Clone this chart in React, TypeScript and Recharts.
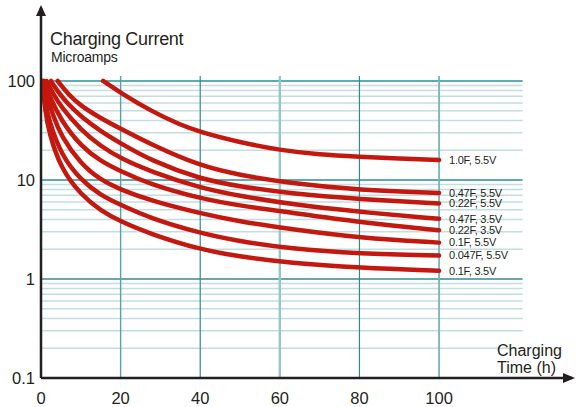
import { LineChart, Line, XAxis, YAxis, ReferenceLine, ReferenceDot } from 'recharts'

// [hours, microamps]
const cap10F55 = [[15.6, 100], [20, 76], [27.5, 50], [35, 36], [40, 30.5], [50, 24], [60, 20], [70, 18], [80, 17.2], [90, 16.5], [100, 15.9]]
const cap047F55 = [[4.2, 100], [7, 72], [10, 56], [15, 42], [20, 33], [27.5, 23], [40, 13.8], [50, 11.2], [62.5, 9.3], [80, 7.9], [100, 7.4]]
const cap022F55 = [[2.5, 100], [4, 80], [7, 57], [10, 44], [15, 31], [20, 23.5], [27.5, 15.8], [40, 10.2], [50, 8.6], [62.5, 7.3], [80, 6.4], [100, 5.8]]
const cap047F35 = [[1.4, 100], [3, 75], [5, 55], [10, 32], [15, 22], [20, 16.5], [27.5, 12.2], [40, 8.3], [50, 6.9], [62.5, 5.7], [80, 4.75], [100, 4.05]]
const cap022F35 = [[0.8, 100], [2, 72], [5, 40], [10, 22], [15, 15.5], [20, 12.3], [27.5, 9], [40, 6.5], [50, 5.5], [62.5, 4.7], [80, 3.75], [100, 3.1]]
const cap01F55 = [[0.6, 100], [1.5, 70], [3, 45], [5, 28], [10, 14.5], [15, 10], [20, 8], [27.5, 6.2], [40, 4.6], [50, 3.8], [62.5, 3.2], [80, 2.6], [100, 2.33]]
const cap0047F55 = [[0.4, 100], [1, 62], [2, 40], [5, 18], [10, 10], [15, 7], [20, 5.6], [27.5, 4.1], [40, 2.9], [50, 2.4], [62.5, 2.02], [80, 1.8], [100, 1.73]]
const cap01F35 = [[0.3, 100], [1, 52], [2, 30], [5, 13], [10, 7.1], [15, 4.9], [20, 3.8], [27.5, 2.85], [40, 1.98], [50, 1.68], [62.5, 1.45], [80, 1.3], [100, 1.21]]

const SERIES: [string, number[][]][] = [
  ['1.0F, 5.5V', cap10F55],
  ['0.47F, 5.5V', cap047F55],
  ['0.22F, 5.5V', cap022F55],
  ['0.47F, 3.5V', cap047F35],
  ['0.22F, 3.5V', cap022F35],
  ['0.1F, 5.5V', cap01F55],
  ['0.047F, 5.5V', cap0047F55],
  ['0.1F, 3.5V', cap01F35],
]

const X_TICKS = [0, 20, 40, 60, 80, 100]
const Y_TICKS = [0.1, 1, 10, 100]
const MINOR_Y = [0.2, 0.3, 0.4, 0.5, 0.6, 0.7, 0.8, 0.9, 2, 3, 4, 5, 6, 7, 8, 9, 20, 30, 40, 50, 60, 70, 80, 90]
const GRID_X_END = 121
const GRID_Y_TOP = 112
const X_MAX = 133.4
const Y_MAX = 546

const FONT = '"Liberation Sans", Arial, Helvetica, sans-serif'
const RED = '#c4170d'
const INK = '#231f20'

const VLINE_STYLE: Record<number, [string, number]> = {
  20: ['#4ea5ae', 1.4],
  40: ['#2d8a95', 1.2],
  60: ['#94c6cc', 2.4],
  80: ['#2d8a95', 1.2],
  100: ['#74b5bd', 1.8],
}

function endLabel(name: string, count: number) {
  return (p: any) => {
    if (p.index !== count - 1) return <g />
    return (
      <text x={p.x + 10} y={p.y} dy="0.35em" fontSize={11} letterSpacing={-0.25} fill={INK} fontFamily={FONT}>
        {name}
      </text>
    )
  }
}

export default function App() {
  return (
    <div style={{ position: 'absolute', left: 0, top: 0, width: 576, height: 407, background: '#fff' }}>
      <LineChart width={576} height={407} margin={{ top: 8, right: 4, bottom: 0, left: 0 }}>
        <XAxis
          type="number"
          dataKey="x"
          domain={[0, X_MAX]}
          ticks={X_TICKS}
          allowDataOverflow
          height={29}
          tickSize={0}
          tickMargin={14}
          tickLine={false}
          axisLine={{ stroke: INK, strokeWidth: 2.5 }}
          tick={{ fill: INK, fontSize: 16.5, fontFamily: FONT }}
        />
        <YAxis
          type="number"
          dataKey="y"
          scale="log"
          domain={[0.1, Y_MAX]}
          ticks={Y_TICKS}
          allowDataOverflow
          width={41}
          tickSize={0}
          tickMargin={6}
          tickLine={false}
          tickFormatter={(v: number) => String(v)}
          axisLine={{ stroke: INK, strokeWidth: 2.5 }}
          tick={{ fill: INK, fontSize: 16.5, fontFamily: FONT }}
        />
        {MINOR_Y.map((v) => (
          <ReferenceLine key={'m' + v} segment={[{ x: 0, y: v }, { x: GRID_X_END, y: v }]} stroke="#c3dde1" strokeWidth={1.5} />
        ))}
        {[1, 10, 100].map((v) => (
          <ReferenceLine key={'M' + v} segment={[{ x: 0, y: v }, { x: GRID_X_END, y: v }]} stroke="#2f8c97" strokeWidth={1.4} />
        ))}
        {X_TICKS.slice(1).map((v) => (
          <ReferenceLine
            key={'v' + v}
            segment={[{ x: v, y: 0.1 }, { x: v, y: GRID_Y_TOP }]}
            stroke={VLINE_STYLE[v][0]}
            strokeWidth={VLINE_STYLE[v][1]}
          />
        ))}
        {SERIES.map(([name, pts]) => (
          <Line
            key={name}
            data={pts.map(([x, y]) => ({ x, y }))}
            dataKey="y"
            type="basis"
            stroke={RED}
            strokeWidth={4.5}
            strokeLinecap="round"
            dot={false}
            activeDot={false}
            isAnimationActive={false}
            label={endLabel(name, pts.length)}
          />
        ))}
        <ReferenceDot
          x={X_MAX}
          y={0.1}
          ifOverflow="visible"
          shape={(p: any) => (
            <polygon points={`${p.cx - 9},${p.cy - 5} ${p.cx + 3},${p.cy} ${p.cx - 9},${p.cy + 5}`} fill={INK} />
          )}
        />
        <ReferenceDot
          x={0}
          y={Y_MAX}
          ifOverflow="visible"
          shape={(p: any) => (
            <polygon points={`${p.cx - 5},${p.cy + 8} ${p.cx},${p.cy - 3} ${p.cx + 5},${p.cy + 8}`} fill={INK} />
          )}
        />
      </LineChart>
      <svg width={576} height={407} style={{ position: 'absolute', left: 0, top: 0, pointerEvents: 'none' }}>
        <g fontFamily={FONT} fill={INK}>
          <text x={50} y={45} fontSize={18} letterSpacing={-0.3}>Charging Current</text>
          <text x={51} y={62} fontSize={14} letterSpacing={-0.2}>Microamps</text>
          <text x={497} y={356} fontSize={16}>Charging</text>
          <text x={497} y={373} fontSize={16}>Time (h)</text>
        </g>
      </svg>
    </div>
  )
}
